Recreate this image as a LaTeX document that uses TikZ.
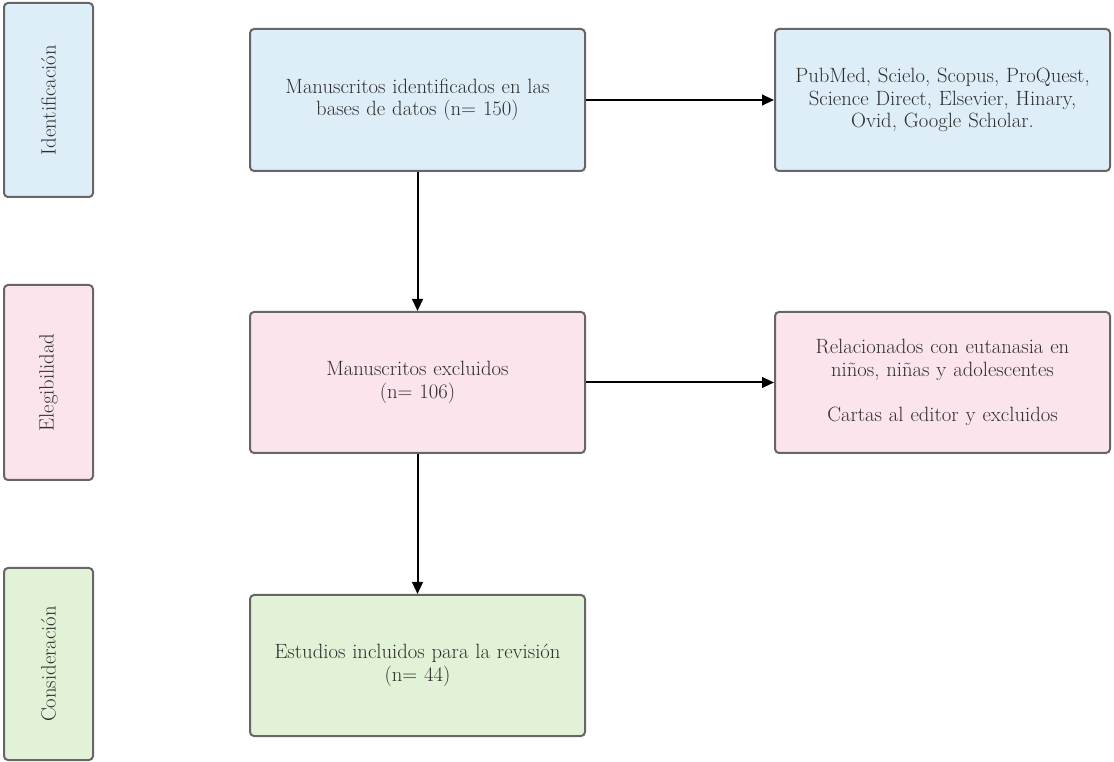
\documentclass[tikz,border=0pt]{standalone}
\usetikzlibrary{arrows.meta}
\definecolor{bluef}{HTML}{DEEEF9}
\definecolor{pinkf}{HTML}{FCE4EC}
\definecolor{greenf}{HTML}{E2F2D6}
\definecolor{edge}{HTML}{666666}
\definecolor{txt}{HTML}{2E2E2E}
\begin{document}
\begin{tikzpicture}[x=0.75pt,y=-0.75pt,
  box/.style={draw=edge,line width=1.5pt,rounded corners=3pt,align=center,
    text=txt,font=\fontsize{15.5}{16.8}\selectfont,inner sep=2pt},
  mainbox/.style={box,minimum width=251.25pt,minimum height=106pt,text width=245pt},
  side/.style={box,rotate=90,minimum height=66.75pt},
  conn/.style={line width=1.5pt,-{Triangle[length=9pt,width=8pt]}}]
\useasboundingbox (0,0) rectangle (1114,762);
\node[side,fill=bluef,minimum width=145.5pt] (id) at (48.5,100) {Identificación};
\node[side,fill=pinkf,minimum width=146.25pt] (el) at (48.5,382.5) {Elegibilidad};
\node[side,fill=greenf,minimum width=144pt] (co) at (48.5,664) {Consideración};
\node[mainbox,fill=bluef,minimum height=106.5pt] (b1) at (417.5,100) {Manuscritos identificados en las\\bases de datos (n= 150)};
\node[mainbox,fill=bluef,minimum height=106.5pt] (r1) at (942.5,100) {PubMed, Scielo, Scopus, ProQuest,\\Science Direct, Elsevier, Hinary,\\Ovid, Google Scholar.};
\node[mainbox,fill=pinkf,minimum height=105.75pt] (b2) at (417.5,382.5) {Manuscritos excluidos\\(n= 106)};
\node[mainbox,fill=pinkf,minimum height=105.75pt] (r2) at (942.5,382.5) {Relacionados con eutanasia en\\niños, niñas y adolescentes\\[16.8pt]Cartas al editor y excluidos};
\node[mainbox,fill=greenf,minimum height=105.75pt] (b3) at (417.5,665.5) {Estudios incluidos para la revisión\\(n= 44)};
\draw[conn] (b1) -- (r1);
\draw[conn] (b1) -- (b2);
\draw[conn] (b2) -- (r2);
\draw[conn] (b2) -- (b3);
\end{tikzpicture}
\end{document}
